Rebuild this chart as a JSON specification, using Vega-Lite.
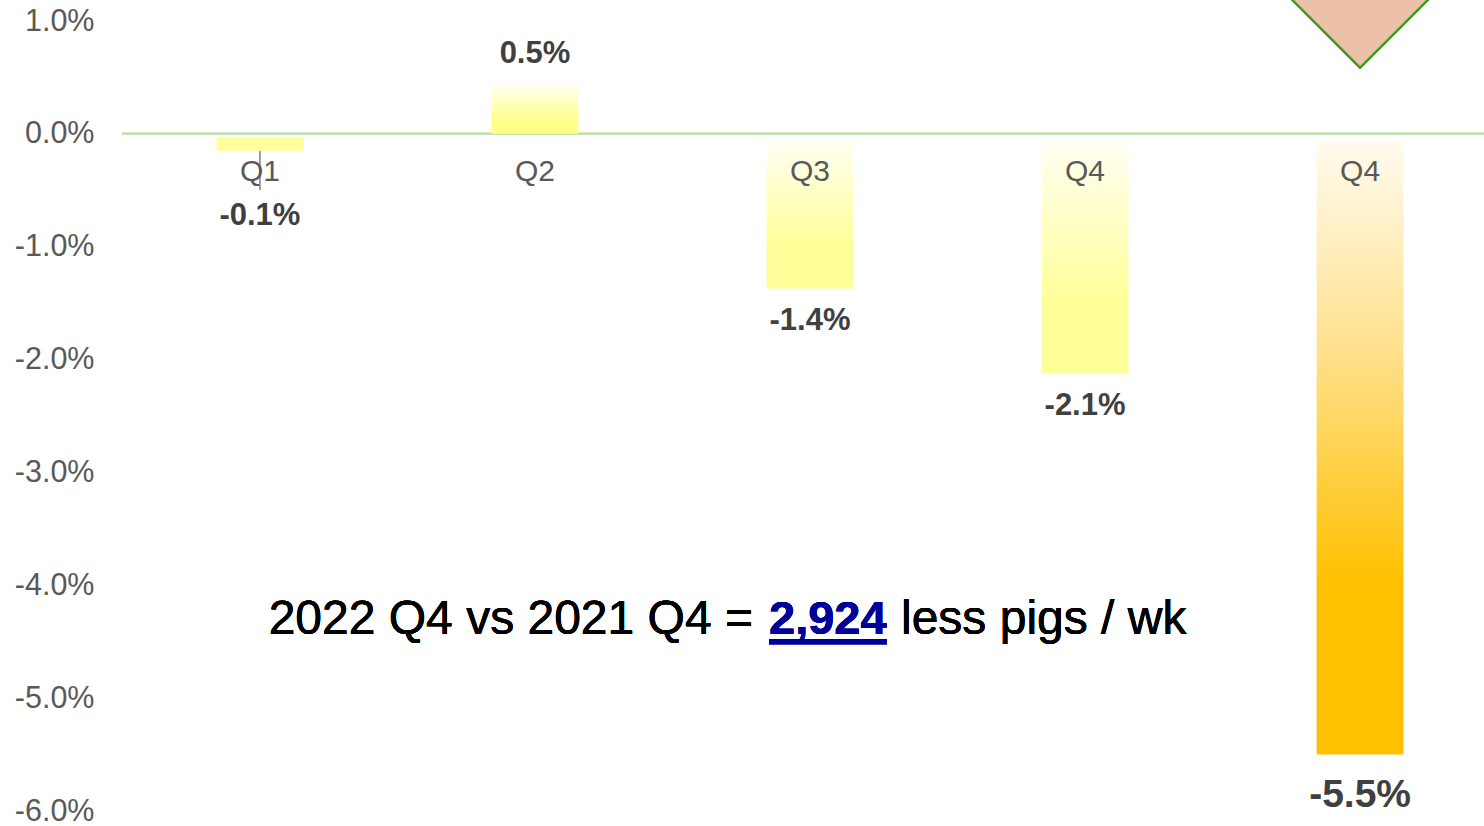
{
  "$schema": "https://vega.github.io/schema/vega-lite/v6.json",
  "width": 1362,
  "height": 790,
  "autosize": {"type": "none"},
  "padding": {"left": 122, "top": 21, "right": 0, "bottom": 15},
  "background": "#ffffff",
  "config": {"view": {"stroke": null}, "font": "Liberation Sans"},
  "data": {"values": [
    {"q": "Q1a", "label": "Q1", "value": -0.15, "base": -0.03, "text": "-0.1%"},
    {"q": "Q2", "label": "Q2", "value": 0.46, "base": 0, "text": "0.5%"},
    {"q": "Q3", "label": "Q3", "value": -1.37, "base": -0.07, "text": "-1.4%"},
    {"q": "Q4a", "label": "Q4", "value": -2.12, "base": -0.07, "text": "-2.1%"},
    {"q": "Q4b", "label": "Q4", "value": -5.5, "base": -0.07, "text": "-5.5%"}
  ]},
  "encoding": {
    "x": {"field": "q", "type": "nominal", "sort": null, "axis": null,
      "scale": {"paddingInner": 0.684, "paddingOuter": 0.318, "align": 0.54}}
  },
  "layer": [
    {
      "mark": {"type": "rule", "color": "#c5e0b4", "strokeWidth": 2},
      "encoding": {"x": {"value": 0}, "x2": {"value": 1362},
        "y": {"datum": 0, "type": "quantitative",
          "scale": {"domain": [-6, 1], "nice": false, "zero": false},
          "axis": {"values": [-6, -5, -4, -3, -2, -1, 0, 1], "grid": false, "domain": false, "ticks": false,
            "labelExpr": "(datum.value < 0 ? '-' : '') + format(abs(datum.value), '.1f') + '%'", "labelFontSize": 30.5, "labelColor": "#595959",
            "labelFont": "Liberation Sans", "labelPadding": 28, "title": null}}}
    },
    {
      "transform": [{"filter": "datum.q == 'Q1a'"}],
      "mark": {"type": "bar", "fill": "#ffff99"},
      "encoding": {"y": {"field": "value", "type": "quantitative"}, "y2": {"field": "base"}}
    },
    {
      "transform": [{"filter": "datum.q == 'Q2'"}],
      "mark": {"type": "bar", "fill": {"gradient": "linear", "x1": 0, "y1": 0, "x2": 0, "y2": 1,
        "stops": [{"offset": 0, "color": "#ffffff"}, {"offset": 0.75, "color": "#ffff88"}, {"offset": 1, "color": "#ffff88"}]}},
      "encoding": {"y": {"field": "value", "type": "quantitative"}, "y2": {"field": "base"}}
    },
    {
      "transform": [{"filter": "datum.q == 'Q3' || datum.q == 'Q4a'"}],
      "mark": {"type": "bar", "fill": {"gradient": "linear", "x1": 0, "y1": 0, "x2": 0, "y2": 1,
        "stops": [{"offset": 0, "color": "#fffff4"}, {"offset": 0.7, "color": "#ffff99"}, {"offset": 1, "color": "#ffff99"}]}},
      "encoding": {"y": {"field": "value", "type": "quantitative"}, "y2": {"field": "base"}}
    },
    {
      "transform": [{"filter": "datum.q == 'Q4b'"}],
      "mark": {"type": "bar", "fill": {"gradient": "linear", "x1": 0, "y1": 0, "x2": 0, "y2": 1,
        "stops": [{"offset": 0, "color": "#fffbee"}, {"offset": 0.35, "color": "#ffe08a"}, {"offset": 0.72, "color": "#ffc000"}, {"offset": 1, "color": "#ffc000"}]}},
      "encoding": {"y": {"field": "value", "type": "quantitative"}, "y2": {"field": "base"}}
    },
    {
      "transform": [{"filter": "datum.q == 'Q1a'"}],
      "mark": {"type": "rule", "color": "#7f7f7f", "strokeWidth": 1.5},
      "encoding": {"y": {"field": "value", "type": "quantitative"}, "y2": {"datum": -0.5}}
    },
    {
      "mark": {"type": "text", "fontSize": 30, "color": "#595959", "baseline": "middle", "align": "center"},
      "encoding": {"y": {"datum": -0.34, "type": "quantitative"}, "text": {"field": "label"}}
    },
    {
      "transform": [{"filter": "datum.q == 'Q2'"}],
      "mark": {"type": "text", "fontSize": 31, "fontWeight": "bold", "color": "#404040", "baseline": "middle", "dy": -28},
      "encoding": {"y": {"field": "value", "type": "quantitative"}, "text": {"field": "text"}}
    },
    {
      "transform": [{"filter": "datum.q == 'Q3' || datum.q == 'Q4a'"}],
      "mark": {"type": "text", "fontSize": 31, "fontWeight": "bold", "color": "#404040", "baseline": "middle", "dy": 33},
      "encoding": {"y": {"field": "value", "type": "quantitative"}, "text": {"field": "text"}}
    },
    {
      "transform": [{"filter": "datum.q == 'Q1a'"}],
      "mark": {"type": "text", "fontSize": 31, "fontWeight": "bold", "color": "#404040", "baseline": "middle", "dy": 65},
      "encoding": {"y": {"field": "value", "type": "quantitative"}, "text": {"field": "text"}}
    },
    {
      "transform": [{"filter": "datum.q == 'Q4b'"}],
      "mark": {"type": "text", "fontSize": 39, "fontWeight": "bold", "color": "#404040", "baseline": "middle", "dy": 40},
      "encoding": {"y": {"field": "value", "type": "quantitative"}, "text": {"field": "text"}}
    },
    {
      "mark": {"type": "point", "shape": "diamond", "size": 67600, "filled": true, "fill": "#edc1a7", "stroke": "#3c9a2c", "strokeWidth": 2, "opacity": 1, "fillOpacity": 1},
      "encoding": {"x": {"datum": "Q4b"}, "y": {"datum": 1.74, "type": "quantitative"}}
    },
    {
      "mark": {"type": "text", "fontSize": 48, "color": "#000000", "align": "right", "baseline": "alphabetic", "dx": -57, "text": "2022 Q4 vs 2021 Q4 ="},
      "encoding": {"x": {"datum": "Q3"}, "y": {"datum": -4.43, "type": "quantitative"}}
    },
    {
      "mark": {"type": "text", "fontSize": 47, "fontWeight": "bold", "color": "#000099", "align": "left", "baseline": "alphabetic", "dx": -41, "text": "2,924"},
      "encoding": {"x": {"datum": "Q3"}, "y": {"datum": -4.43, "type": "quantitative"}}
    },
    {
      "mark": {"type": "rule", "color": "#000099", "strokeWidth": 5, "xOffset": -41, "x2Offset": 77},
      "encoding": {"x": {"datum": "Q3"}, "x2": {"datum": "Q3"}, "y": {"datum": -4.5, "type": "quantitative"}}
    },
    {
      "mark": {"type": "text", "fontSize": 48, "color": "#000000", "align": "left", "baseline": "alphabetic", "dx": 91, "text": "less pigs / wk"},
      "encoding": {"x": {"datum": "Q3"}, "y": {"datum": -4.43, "type": "quantitative"}}
    }
  ]
}
